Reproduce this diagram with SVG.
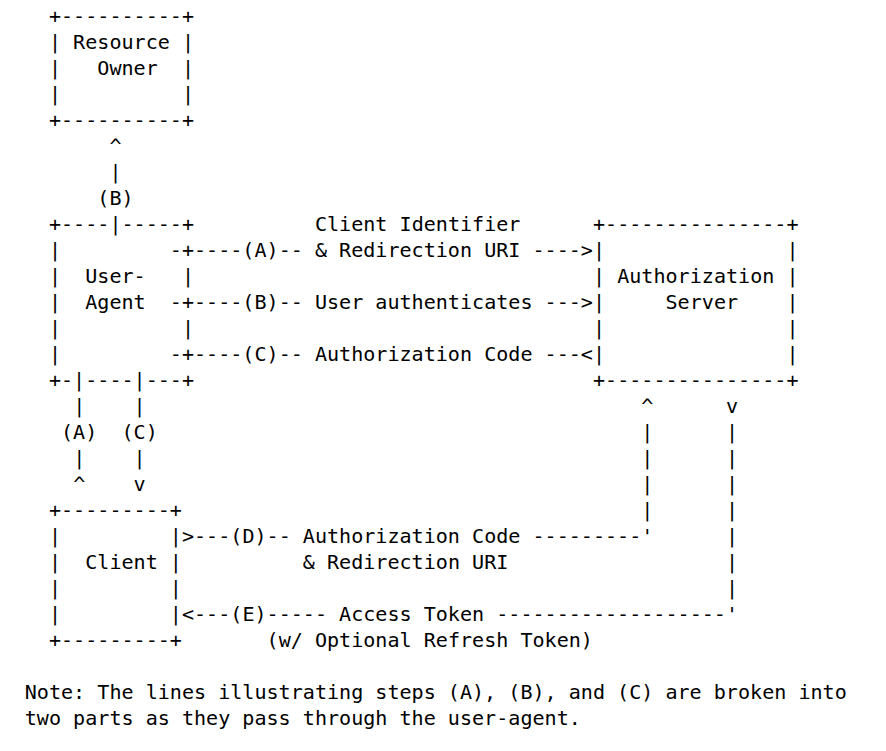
<svg xmlns="http://www.w3.org/2000/svg" width="886" height="751" viewBox="0 0 886 751" xml:space="preserve">
<style>
text { font-family: "DejaVu Sans Mono", "Liberation Mono", monospace; font-size: 20.08px; fill: #000; white-space: pre; }
</style>
<rect width="886" height="751" fill="#fff"/>
<g transform="translate(0,-0.8)">
<g id="resource-owner">
<text x="48.95" y="23.5">+----------+</text>
<text x="48.95" y="49.5">| Resource |</text>
<text x="48.95" y="75.5">|   Owner  |</text>
<text x="48.95" y="101.5">|          |</text>
<text x="48.95" y="127.5">+----------+</text>
</g>
<g id="user-agent">
<text x="48.95" y="231.5">+----|-----+</text>
<text x="48.95" y="257.5">|</text>
<text x="181.94" y="257.5">+</text>
<text x="48.95" y="283.5">|  User-   |</text>
<text x="48.95" y="309.5">|  Agent</text>
<text x="181.94" y="309.5">+</text>
<text x="48.95" y="335.5">|          |</text>
<text x="48.95" y="361.5">|</text>
<text x="181.94" y="361.5">+</text>
<text x="48.95" y="387.5">+-|----|---+</text>
</g>
<g id="authorization-server">
<text x="593.0" y="231.5">+---------------+</text>
<text x="593.0" y="257.5">|               |</text>
<text x="593.0" y="283.5">| Authorization |</text>
<text x="593.0" y="309.5">|     Server    |</text>
<text x="593.0" y="335.5">|               |</text>
<text x="593.0" y="361.5">|               |</text>
<text x="593.0" y="387.5">+---------------+</text>
</g>
<g id="client">
<text x="48.95" y="517.5">+---------+</text>
<text x="48.95" y="543.5">|         |</text>
<text x="48.95" y="569.5">|  Client |</text>
<text x="48.95" y="595.5">|         |</text>
<text x="48.95" y="621.5">|         |</text>
<text x="48.95" y="647.5">+---------+</text>
</g>
<g id="connectors">
<text x="109.4" y="153.5">^</text>
<text x="109.4" y="179.5">|</text>
<text x="97.31" y="205.5">(B)</text>
<text x="314.93" y="231.5">Client Identifier</text>
<text x="169.85" y="257.5">-</text>
<text x="194.03" y="257.5">----(A)-- &amp; Redirection URI ----&gt;</text>
<text x="169.85" y="309.5">-</text>
<text x="194.03" y="309.5">----(B)-- User authenticates ---&gt;</text>
<text x="169.85" y="361.5">-</text>
<text x="194.03" y="361.5">----(C)-- Authorization Code ---&lt;</text>
<text x="73.13" y="413.5">|    |</text>
<text x="61.04" y="439.5">(A)  (C)</text>
<text x="73.13" y="465.5">|    |</text>
<text x="73.13" y="491.5">^    v</text>
<text x="641.36" y="413.5">^      v</text>
<text x="641.36" y="439.5">|      |</text>
<text x="641.36" y="465.5">|      |</text>
<text x="641.36" y="491.5">|      |</text>
<text x="641.36" y="517.5">|      |</text>
<text x="181.94" y="543.5">&gt;---(D)-- Authorization Code ---------'      |</text>
<text x="302.84" y="569.5">&amp; Redirection URI</text>
<text x="725.99" y="569.5">|</text>
<text x="725.99" y="595.5">|</text>
<text x="181.94" y="621.5">&lt;---(E)----- Access Token -------------------'</text>
<text x="266.57" y="647.5">(w/ Optional Refresh Token)</text>
</g>
<g id="note">
<text x="24.77" y="699.5">Note: The lines illustrating steps (A), (B), and (C) are broken into</text>
<text x="24.77" y="725.5">two parts as they pass through the user-agent.</text>
</g>
</g>
</svg>
